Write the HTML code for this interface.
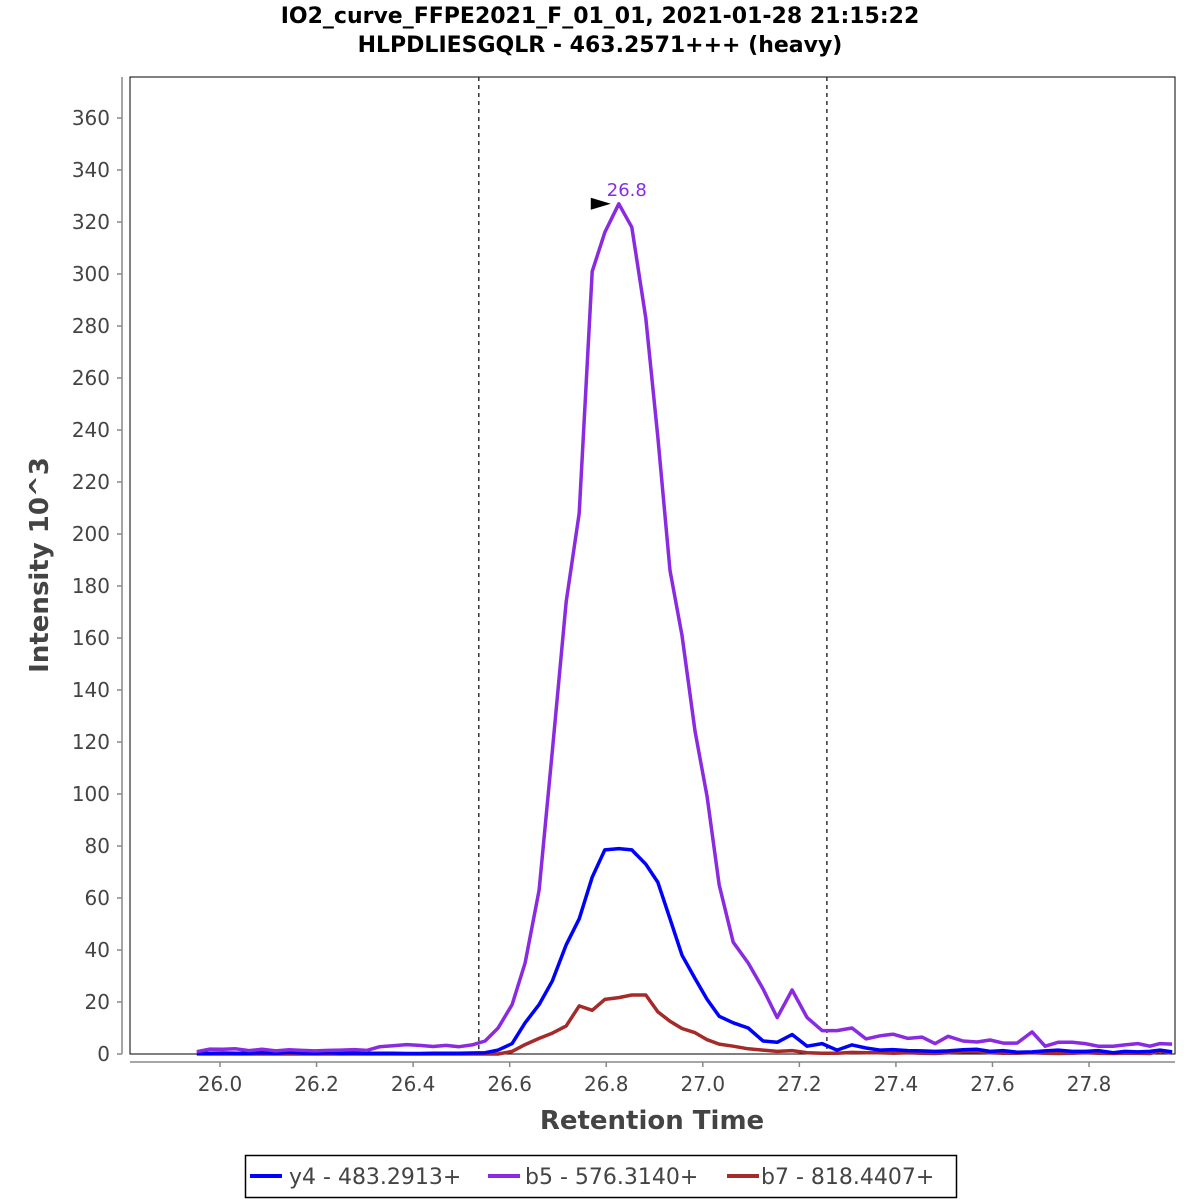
<!DOCTYPE html>
<html><head><meta charset="utf-8"><style>
html,body{margin:0;padding:0;background:#fff;}
svg{display:block;font-family:"DejaVu Sans","Liberation Sans",sans-serif;}
</style></head><body>
<svg id="chart" width="1200" height="1200" viewBox="0 0 1200 1200" xmlns="http://www.w3.org/2000/svg">
<rect width="1200" height="1200" fill="#fff"/>
<text x="600" y="23" text-anchor="middle" font-size="22" font-weight="bold">IO2_curve_FFPE2021_F_01_01, 2021-01-28 21:15:22</text>
<text x="600" y="52" text-anchor="middle" font-size="22" font-weight="bold">HLPDLIESGQLR - 463.2571+++ (heavy)</text>
<rect x="130" y="77" width="1045" height="977" fill="#fff" stroke="#000" stroke-width="1"/>
<g id="yaxis"></g>
<g id="xaxis"></g>
<g id="marks"></g>
<text transform="translate(48,565) rotate(-90)" text-anchor="middle" font-size="26" font-weight="bold" fill="#444">Intensity 10^3</text>
<text x="652" y="1129" text-anchor="middle" font-size="26" font-weight="bold" fill="#444">Retention Time</text>
<g>
<rect x="245.5" y="1155.5" width="711" height="42" fill="#fff" stroke="#000" stroke-width="1.5"/>
<line x1="250" y1="1176" x2="282" y2="1176" stroke="#0000ff" stroke-width="4"/>
<text x="289" y="1184" font-size="22" fill="#444">y4 - 483.2913+</text>
<line x1="488" y1="1176" x2="520" y2="1176" stroke="#8a2be2" stroke-width="4"/>
<text x="525" y="1184" font-size="22" fill="#444">b5 - 576.3140+</text>
<line x1="727" y1="1176" x2="759" y2="1176" stroke="#a52a2a" stroke-width="4"/>
<text x="761" y="1184" font-size="22" fill="#444">b7 - 818.4407+</text>
</g>
</svg>
<script>
const times = [25.952,25.979,26.006,26.033,26.060,26.087,26.116,26.143,26.170,26.197,26.224,26.251,26.278,26.304,26.331,26.358,26.387,26.414,26.441,26.468,26.495,26.522,
26.549,26.576,26.605,26.632,26.661,26.688,26.717,26.744,26.771,26.797,26.826,26.853,26.882,26.907,26.932,26.957,26.984,27.009,27.034,27.063,27.094,27.125,27.154,27.185,27.216,27.247,27.278,27.309,27.338,27.367,27.394,27.425,27.454,27.481,27.508,27.539,27.568,27.595,27.622,27.651,27.682,27.709,27.736,27.765,27.792,27.819,27.850,27.874,27.901,27.926,27.947,27.972];
const y4Values = [0.3,0.3,0.4,0.3,0.3,0.5,0.3,0.6,0.4,0.3,0.5,0.3,0.4,0.3,0.3,0.3,0.2,0.2,0.3,0.3,0.3,0.4,
0.5,1.5,4,12,19,28,42,52,68,78.5,79,78.5,73,66,52,38,29,21,14.5,12,10,5,4.5,7.5,3,4,1.5,3.5,2.3,1.5,1.7,1.3,1.2,1,1.2,1.6,1.8,1,1.3,0.7,0.8,1.2,1.5,1,1,1.3,0.5,1,0.8,1,1.5,0.8];
const b5Values = [0.9,1.9,1.8,2.0,1.3,1.8,1.2,1.6,1.4,1.2,1.4,1.5,1.7,1.4,2.8,3.2,3.6,3.3,2.9,3.3,2.8,3.5,
5,10,19,35,63,116,174,208,301,316,327,318,283,237,186,161,124,99,65,43,35,25,14,24.6,14,9,9,10,5.8,7,7.6,6,6.5,4,6.8,5,4.6,5.4,4.2,4.2,8.5,3,4.5,4.5,4,3,3,3.5,4,3,4,3.8];
const b7Values = [0,0,0,0,0,0,0,0,0,0,0,0,0,0,0,0,0,0,0,0,0,0,
0,0,1,3.6,6,8,10.8,18.5,16.8,21,21.7,22.7,22.7,16.2,12.6,9.8,8.2,5.5,3.8,3,2,1.5,1,1.3,0.5,0.3,0.3,0.6,0.5,0.5,0.3,0.5,0.3,0.2,0.5,0.8,0.8,0.5,0.3,0.3,0.5,0.3,0.2,0.3,0.5,0.3,0.2,0.3,0.3,0.2,1,0.3];
const yTicks = [0,20,40,60,80,100,120,140,160,180,200,220,240,260,280,300,320,340,360];
const xTicks = [26.0,26.2,26.4,26.6,26.8,27.0,27.2,27.4,27.6,27.8];
const boundaries = [26.536,27.257];
const peakTime = [26.826];
const peakValue = [327];
const peakLabel = ["26.8"];

const NS = "http://www.w3.org/2000/svg";
const X0 = 130, X1 = 1175, Y0 = 1054, Y1 = 77;
function xs(t){ return 220 + (t - 26.0) * 482.8; }
function ys(v){ return 1054 - v * 2.6; }
function mk(tag, attrs, parent){ const e = document.createElementNS(NS, tag); for (const k in attrs) e.setAttribute(k, attrs[k]); parent.appendChild(e); return e; }

const yg = document.getElementById('yaxis');
const yl = mk('line', {x1:122,y1:Y1,x2:122,y2:Y0,stroke:'#888','stroke-width':1.5}, yg);


yTicks.forEach(v => {
  const tk = mk('line', {x1:117,y1:ys(v),x2:122,y2:ys(v),stroke:'#888','stroke-width':1.5}, yg);
  
  
  const tx = mk('text', {x:110,y:ys(v)+7,'text-anchor':'end','font-size':20,fill:'#444'}, yg);
  
  
  tx.textContent = String(v);
});
const xg = document.getElementById('xaxis');
const xl = mk('line', {x1:X0,y1:1062,x2:X1,y2:1062,stroke:'#888','stroke-width':1.5}, xg);


xTicks.forEach(t => {
  const tk = mk('line', {x1:xs(t),y1:1062,x2:xs(t),y2:1067,stroke:'#888','stroke-width':1.5}, xg);
  
  
  const tx = mk('text', {x:xs(t),y:1091,'text-anchor':'middle','font-size':20,fill:'#444'}, xg);
  
  
  tx.textContent = t.toFixed(1);
});
const mg = document.getElementById('marks');
boundaries.forEach(t => {
  const b = mk('line', {x1:xs(t),y1:Y1,x2:xs(t),y2:Y0,stroke:'#333','stroke-width':1.5,'stroke-dasharray':'4,4'}, mg);
  
  
});
function series(vals, color, name){
  const pts = times.map((t,i) => xs(t).toFixed(1) + ',' + ys(vals[i]).toFixed(1)).join(' ');
  const p = mk('polyline', {points:pts,fill:'none',stroke:color,'stroke-width':3.5,'stroke-linejoin':'round'}, mg);
  
  
}
series(b7Values, '#a52a2a', 'series-b7');
series(y4Values, '#0000ff', 'series-y4');
series(b5Values, '#8a2be2', 'series-b5');
const px = xs(peakTime[0]), py = ys(peakValue[0]);
const arr = mk('polygon', {points:(px-28)+','+(py-6)+' '+(px-8)+','+(py)+' '+(px-28)+','+(py+6), fill:'#000'}, mg);


const pl = mk('text', {x:px-12,y:py-8,'font-size':18,fill:'#8a2be2'}, mg);


pl.textContent = peakLabel[0];
</script>
</body></html>
